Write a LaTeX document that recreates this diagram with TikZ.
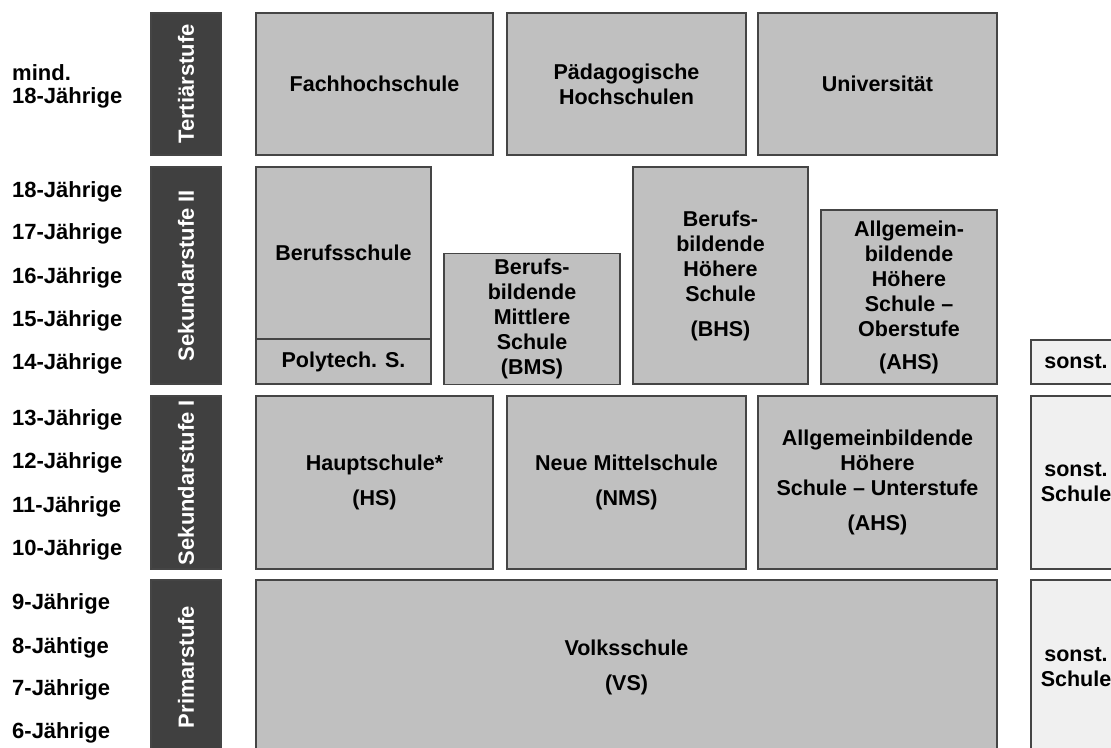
\documentclass[tikz,border=0pt]{standalone}
\usepackage{fontspec}
\setmainfont{Liberation Sans}
\usetikzlibrary{positioning}

\definecolor{boxgray}{HTML}{C0C0C0}
\definecolor{lightbox}{HTML}{F0F0F0}
\definecolor{stagegray}{HTML}{404040}
\definecolor{edgegray}{HTML}{454545}

\tikzset{
  school/.style={draw=edgegray, line width=1.2pt, fill=boxgray, inner sep=0pt,
    align=center, text=black, font=\bfseries\fontsize{21.5}{25}\selectfont},
  other/.style={school, fill=lightbox},
  stage/.style={draw=edgegray, line width=1.2pt, fill=stagegray, text=white,
    rotate=90, inner sep=0pt, font=\bfseries\fontsize{22}{25}\selectfont},
  age/.style={anchor=base west, inner sep=0pt, font=\bfseries\fontsize{22}{25}\selectfont}
}

\begin{document}
\begin{tikzpicture}[x=1pt,y=-1pt]
\useasboundingbox (0,0) rectangle (1111,747);
\clip (0,0) rectangle (1111,747);
% ages
\node[age] (mind) at (12,80) {mind.};
\node[age] (a18t) at (12,103) {18-Jährige};
\node[age] (a18) at (12,197) {18-Jährige};
\node[age] (a17) at (12,239) {17-Jährige};
\node[age] (a16) at (12,283) {16-Jährige};
\node[age] (a15) at (12,326) {15-Jährige};
\node[age] (a14) at (12,369) {14-Jährige};
\node[age] (a13) at (12,425) {13-Jährige};
\node[age] (a12) at (12,468) {12-Jährige};
\node[age] (a11) at (12,512) {11-Jährige};
\node[age] (a10) at (12,555) {10-Jährige};
\node[age] (a9) at (12,609) {9-Jährige};
\node[age] (a8) at (12,653) {8-Jähtige};
\node[age] (a7) at (12,695) {7-Jährige};
\node[age] (a6) at (12,738) {6-Jährige};
% stages
\node[stage, minimum width=142, minimum height=70] (tert) at (186,84) {Tertiärstufe};
\node[stage, minimum width=217, minimum height=70] (sek2) at (186,275.5) {Sekundarstufe II};
\node[stage, minimum width=173, minimum height=70] (sek1) at (186,482.5) {Sekundarstufe I};
\node[stage, minimum width=174, minimum height=70] (prim) at (186,667) {Primarstufe};
% tertiary
\node[school, minimum width=237, minimum height=142] (fh) at (374.5,84) {Fachhochschule};
\node[school, minimum width=239, minimum height=142] (ph) at (626.5,84) {Pädagogische\\Hochschulen};
\node[school, minimum width=239, minimum height=142] (uni) at (877.5,84) {Universität};
% secondary II
\node[school, minimum width=175, minimum height=172] (bs) at (343.5,253) {Berufsschule};
\node[school, minimum width=175, minimum height=45] (poly) at (343.5,361.5) {Polytech. S.};
\node[school, minimum width=176, minimum height=131] (bms) at (532,319) {Berufs-\\bildende\\Mittlere\\Schule\\(BMS)};
\node[school, minimum width=175, minimum height=217] (bhs) at (720.5,275.5) {Berufs-\\bildende\\Höhere\\Schule\\[10pt](BHS)};
\node[school, minimum width=176, minimum height=174] (ahso) at (909,297) {Allgemein-\\bildende\\Höhere\\Schule –\\Oberstufe\\[8pt](AHS)};
\node[other, minimum width=90, minimum height=44] (so14) at (1076,362) {sonst.};
% secondary I
\node[school, minimum width=237, minimum height=173] (hs) at (374.5,482.5) {Hauptschule*\\[10pt](HS)};
\node[school, minimum width=239, minimum height=173] (nms) at (626.5,482.5) {Neue Mittelschule\\[10pt](NMS)};
\node[school, minimum width=239, minimum height=173] (ahsu) at (877.5,482.5) {Allgemeinbildende\\Höhere\\Schule – Unterstufe\\[10pt](AHS)};
\node[other, minimum width=90, minimum height=173] (sos1) at (1076,482.5) {sonst.\\Schule};
% primary
\node[school, minimum width=741, minimum height=174] (vs) at (626.5,667) {Volksschule\\[10pt](VS)};
\node[other, minimum width=90, minimum height=174] (sop) at (1076,667) {sonst.\\Schule};
\end{tikzpicture}
\end{document}
